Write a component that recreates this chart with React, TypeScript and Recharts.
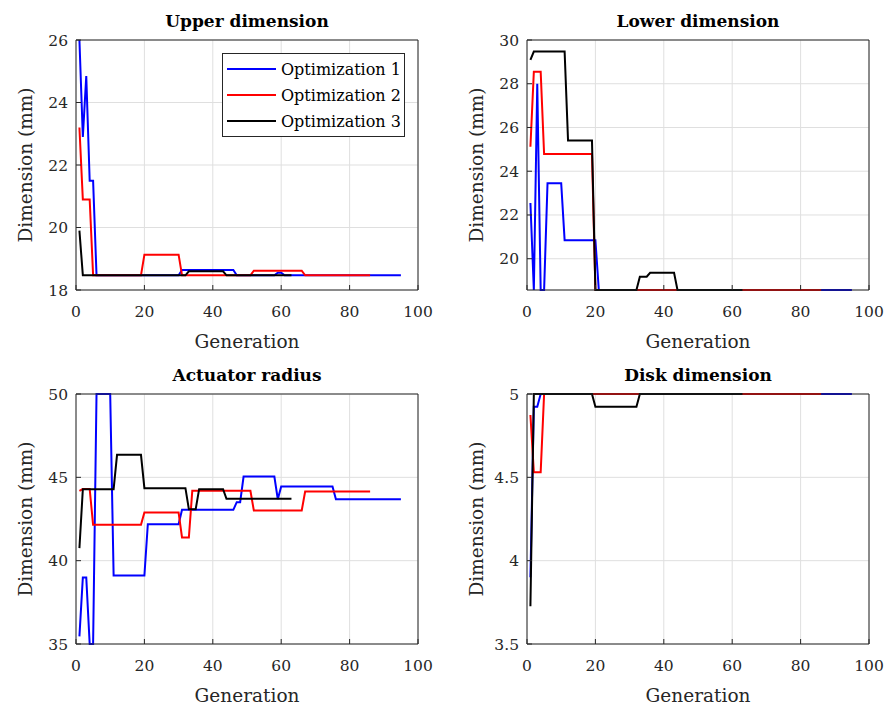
import React from 'react';
import { LineChart, Line, XAxis, YAxis, CartesianGrid, Legend, Label } from 'recharts';

const FONT = '"DejaVu Serif", serif';
const AXIS = '#262626';
const GRID = '#dfdfdf';

const seriesNames = ['Optimization 1', 'Optimization 2', 'Optimization 3'];
const seriesColors = ['#0000ff', '#ff0000', '#000000'];
const genTicks = [0, 20, 40, 60, 80, 100];

// [generation, value] break points of each run; the value holds between points
const upperOpt1 = [[1, 26], [2, 22.9], [3, 24.85], [4, 21.5], [5, 21.5], [6, 18.47], [30, 18.47], [31, 18.64], [46, 18.64], [47, 18.47], [58, 18.47], [59, 18.55], [60, 18.55], [61, 18.47], [95, 18.47]];
const upperOpt2 = [[1, 23.2], [2, 20.9], [4, 20.9], [5, 18.47], [19, 18.47], [20, 19.13], [30, 19.13], [31, 18.47], [51, 18.47], [52, 18.62], [66, 18.62], [67, 18.47], [86, 18.47]];
const upperOpt3 = [[1, 19.9], [2, 18.47], [32, 18.47], [33, 18.6], [43, 18.6], [44, 18.47], [63, 18.47]];
const upperTicks = [18, 20, 22, 24, 26];

const lowerOpt1 = [[1, 22.55], [2, 18.57], [3, 28.0], [4, 18.57], [5, 18.57], [6, 23.45], [10, 23.45], [11, 20.85], [20, 20.85], [21, 18.57], [95, 18.57]];
const lowerOpt2 = [[1, 25.12], [2, 28.55], [4, 28.55], [5, 24.79], [19, 24.79], [20, 18.57], [86, 18.57]];
const lowerOpt3 = [[1, 29.09], [2, 29.47], [11, 29.47], [12, 25.4], [19, 25.4], [20, 18.57], [32, 18.57], [33, 19.18], [35, 19.18], [36, 19.36], [43, 19.36], [44, 18.57], [63, 18.57]];
const lowerTicks = [20, 22, 24, 26, 28, 30];

const radiusOpt1 = [[1, 35.46], [2, 38.99], [3, 38.99], [4, 35], [5, 35], [6, 50], [10, 50], [11, 39.11], [20, 39.11], [21, 42.19], [30, 42.19], [31, 43.05], [46, 43.05], [47, 43.51], [48, 43.51], [49, 45.05], [58, 45.05], [59, 43.69], [60, 44.45], [75, 44.45], [76, 43.69], [95, 43.69]];
const radiusOpt2 = [[1, 44.19], [2, 44.3], [4, 44.3], [5, 42.15], [19, 42.15], [20, 42.89], [30, 42.89], [31, 41.39], [33, 41.39], [34, 44.19], [51, 44.19], [52, 43.01], [66, 43.01], [67, 44.15], [86, 44.15]];
const radiusOpt3 = [[1, 40.75], [2, 44.29], [11, 44.29], [12, 46.35], [19, 46.35], [20, 44.35], [32, 44.35], [33, 43.09], [35, 43.09], [36, 44.29], [43, 44.29], [44, 43.71], [63, 43.71]];
const radiusTicks = [35, 40, 45, 50];

const diskOpt1 = [[1, 3.9], [2, 4.924], [3, 4.924], [4, 5], [95, 5]];
const diskOpt2 = [[1, 4.874], [2, 4.531], [4, 4.531], [5, 5], [86, 5]];
const diskOpt3 = [[1, 3.726], [2, 5], [19, 5], [20, 4.924], [32, 4.924], [33, 5], [63, 5]];
const diskTicks = [3.5, 4, 4.5, 5];

const toRows = (pts: number[][]) => pts.map(([g, v]) => ({ g, v }));

function LegendBox({ payload }: any) {
  const items = payload && payload.length ? payload : seriesNames.map((n, i) => ({ value: n, color: seriesColors[i] }));
  return (
    <div style={{ width: 183, height: 84, boxSizing: 'border-box', border: `1px solid ${AXIS}`, background: '#fff', paddingTop: 2, fontFamily: FONT }}>
      {items.map((it: any) => (
        <div key={it.value} style={{ display: 'flex', alignItems: 'center', height: 26 }}>
          <div style={{ width: 49, height: 2, background: it.color, marginLeft: 4, marginRight: 5 }} />
          <span style={{ fontSize: 16, color: '#000' }}>{it.value}</span>
        </div>
      ))}
    </div>
  );
}

interface PanelProps {
  title: string;
  series: number[][][];
  yDomain: number[];
  yTicks: number[];
  left: number;
  top: number;
  legend?: boolean;
}

function Panel({ title, series, yDomain, yTicks, left, top, legend }: PanelProps) {
  const tickStyle = { fill: AXIS, fontSize: 15.5, fontFamily: FONT };
  return (
    <div style={{ position: 'absolute', left, top }}>
      <LineChart width={436} height={354} margin={{ top: 20, right: 8, bottom: 14, left: 16 }}>
        <CartesianGrid stroke={GRID} strokeWidth={1} />
        <XAxis
          dataKey="g"
          type="number"
          domain={[0, 100]}
          ticks={genTicks}
          height={50}
          stroke={AXIS}
          tickSize={-5}
          tickMargin={21}
          tick={tickStyle}
        >
          <Label
            content={(p: any) => {
              const vb = p.viewBox || { x: 76, y: 290, width: 342, height: 50 };
              return (
                <text x={vb.x + vb.width / 2} y={vb.y + 58} textAnchor="middle" fill={AXIS} fontSize={18.5} fontFamily={FONT}>
                  Generation
                </text>
              );
            }}
          />
        </XAxis>
        <XAxis
          xAxisId="top"
          orientation="top"
          type="number"
          domain={[0, 100]}
          ticks={genTicks}
          height={20}
          stroke={AXIS}
          tickSize={-5}
          tickFormatter={() => ''}
        >
          <Label
            content={(p: any) => {
              const vb = p.viewBox || { x: 76, y: 20, width: 342, height: 20 };
              return (
                <text x={vb.x + vb.width / 2} y={vb.y + vb.height - 13} textAnchor="middle" fill="#000" fontSize={17} fontWeight="bold" fontFamily={FONT}>
                  {title}
                </text>
              );
            }}
          />
        </XAxis>
        <YAxis
          type="number"
          domain={yDomain}
          ticks={yTicks}
          width={60}
          stroke={AXIS}
          tickSize={-5}
          tickMargin={13}
          tick={tickStyle}
        >
          <Label
            content={(p: any) => {
              const vb = p.viewBox || { x: 16, y: 40, width: 60, height: 250 };
              const cx = vb.x + vb.width - 50;
              const cy = vb.y + vb.height / 2;
              return (
                <text x={cx} y={cy} transform={`rotate(-90 ${cx} ${cy})`} textAnchor="middle" dy="0.35em" fill={AXIS} fontSize={18.5} fontFamily={FONT}>
                  Dimension (mm)
                </text>
              );
            }}
          />
        </YAxis>
        <YAxis
          yAxisId="right"
          orientation="right"
          type="number"
          domain={yDomain}
          ticks={yTicks}
          width={10}
          stroke={AXIS}
          tickSize={-5}
          tickFormatter={() => ''}
        />
        {series.map((pts, i) => (
          <Line
            key={seriesNames[i]}
            name={seriesNames[i]}
            data={toRows(pts)}
            dataKey="v"
            type="linear"
            stroke={seriesColors[i]}
            strokeWidth={2}
            dot={false}
            activeDot={false}
            isAnimationActive={false}
          />
        ))}
        {legend && (
          <Legend
            layout="vertical"
            align="center"
            verticalAlign="middle"
            content={<LegendBox />}
            wrapperStyle={{ left: 222, top: 53, width: 183 }}
          />
        )}
      </LineChart>
    </div>
  );
}

export default function App() {
  return (
    <div style={{ position: 'absolute', left: 0, top: 0, width: 887, height: 708, overflow: 'hidden', background: '#fff', fontFamily: FONT }}>
      <Panel title="Upper dimension" series={[upperOpt1, upperOpt2, upperOpt3]} yDomain={[18, 26]} yTicks={upperTicks} left={0} top={0} legend />
      <Panel title="Lower dimension" series={[lowerOpt1, lowerOpt2, lowerOpt3]} yDomain={[18.57, 30]} yTicks={lowerTicks} left={451} top={0} />
      <Panel title="Actuator radius" series={[radiusOpt1, radiusOpt2, radiusOpt3]} yDomain={[35, 50]} yTicks={radiusTicks} left={0} top={354} />
      <Panel title="Disk dimension" series={[diskOpt1, diskOpt2, diskOpt3]} yDomain={[3.5, 5]} yTicks={diskTicks} left={451} top={354} />
    </div>
  );
}
